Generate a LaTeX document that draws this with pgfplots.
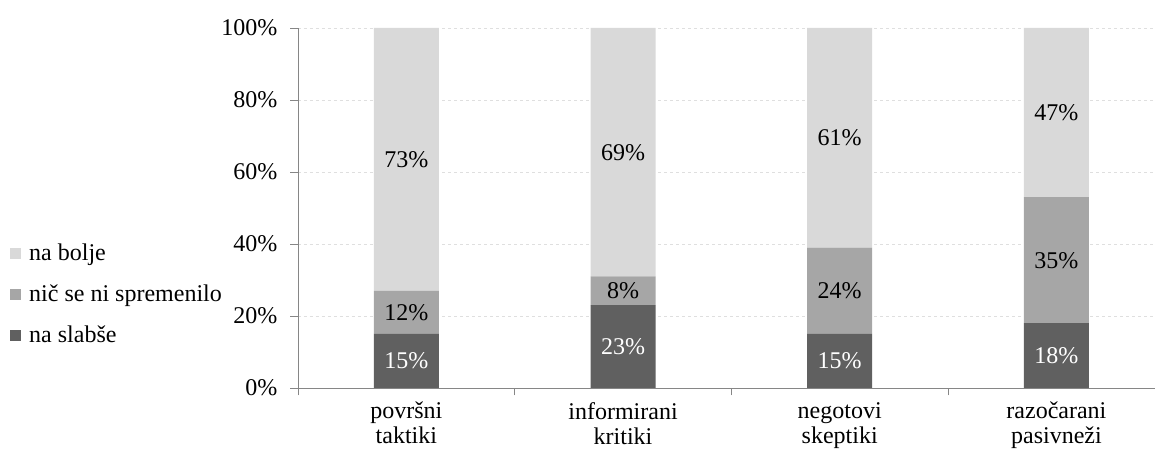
\documentclass[border=0pt]{standalone}
\usepackage{pgfplots}
\usepackage{pgfplotstable}
\pgfplotsset{compat=1.18}
\usepackage{fontspec}
\setmainfont{Liberation Serif}
\definecolor{cdark}{HTML}{606060}
\definecolor{cmid}{HTML}{A6A6A6}
\definecolor{clight}{HTML}{D9D9D9}
\definecolor{caxis}{HTML}{868686}
\pgfplotstableread{
x slabse nic bolje
0 15 12 73
1 23 8 69
2 15 24 61
3 18 35 47
}\data
\begin{document}
\fontsize{24}{25}\selectfont
\begin{tikzpicture}[font=\fontsize{24}{25}\selectfont]
\begin{axis}[
  scale only axis, width=857pt, height=360pt,
  ybar stacked, bar width=65pt,
  xmin=-0.5, xmax=3.455, ymin=0, ymax=100,
  axis x line*=bottom, axis y line*=left,
  axis line style={caxis, line width=0.9pt},
  tick style={caxis, line width=0.9pt},
  tick align=outside, major tick length=7.5pt,
  xtick={-0.5,0.5,1.5,2.5}, xticklabels={},
  extra x ticks={0,1,2,3},
  extra x tick labels={{površni\\taktiki},{informirani\\kritiki},{negotovi\\skeptiki},{razočarani\\pasivneži}},
  extra x tick style={major tick length=0pt, tick label style={align=center, yshift=-6pt}},
  ytick={0,20,...,100},
  yticklabel={\pgfmathprintnumber{\tick}\%},
  yticklabel style={xshift=-5pt},
  /pgf/number format/assume math mode=true,
  ymajorgrids, major grid style={dashed, gray!25, line width=0.6pt},
  legend cell align=left,
  legend image code/.code={\fill[#1] (0pt,-5pt) rectangle (11pt,6pt);},
  legend style={at={(-0.336,0.258)}, anchor=west, draw=none, fill=none, inner sep=0pt, row sep=17pt,
    font=\fontsize{24}{25}\selectfont, nodes={inner xsep=3pt},
    /tikz/every odd column/.append style={column sep=5pt}},
  point meta=explicit,
  nodes near coords={\pgfmathprintnumber{\pgfplotspointmeta}\%},
  every node near coord/.append style={anchor=center},
]
\addplot[fill=cdark, draw=none, forget plot,
  every node near coord/.append style={text=white}]
  table[x=x,y=slabse,meta=slabse]{\data};
\addplot[fill=cmid, draw=none, forget plot,
  every node near coord/.append style={text=black}]
  table[x=x,y=nic,meta=nic]{\data};
\addplot[fill=clight, draw=none, forget plot,
  every node near coord/.append style={text=black}]
  table[x=x,y=bolje,meta=bolje]{\data};
\addlegendimage{fill=clight, draw=none}
\addlegendentry{na bolje}
\addlegendimage{fill=cmid, draw=none}
\addlegendentry{nič se ni spremenilo}
\addlegendimage{fill=cdark, draw=none}
\addlegendentry{na slabše}
\coordinate (bl) at (rel axis cs:0,0);
\coordinate (tr) at (rel axis cs:1,1);
\end{axis}
\pgfresetboundingbox
\path ([shift={(-298pt,-66pt)}]bl) rectangle ([shift={(0pt,28pt)}]tr);
\end{tikzpicture}
\end{document}
